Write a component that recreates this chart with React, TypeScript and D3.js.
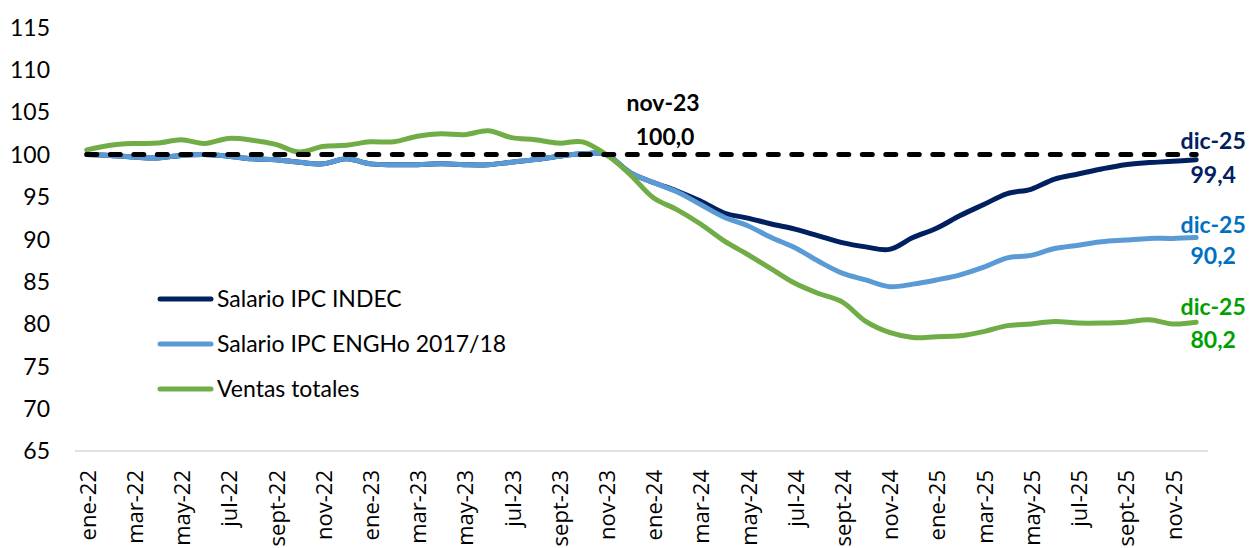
import React, { useEffect, useRef } from 'react';
import * as d3 from 'd3';

const monthNames = ['ene', 'feb', 'mar', 'abr', 'may', 'jun', 'jul', 'ago', 'sept', 'oct', 'nov', 'dic'];
const years = ['22', '23', '24', '25'];
const months: string[] = years.flatMap(y => monthNames.map(m => `${m}-${y}`));

// Salario IPC INDEC (base nov-23 = 100)
const salarioIndec = [
  100, 99.9, 99.7, 99.6, 99.9, 100, 99.8, 99.5, 99.4, 99.1, 98.9, 99.5,
  98.9, 98.8, 98.8, 98.9, 98.8, 98.8, 99.1, 99.4, 99.8, 100.1, 100,
  97.9, 96.7, 95.7, 94.5, 93.1, 92.5, 91.8, 91.2, 90.4, 89.6, 89.1, 88.8,
  90.2, 91.3, 92.8, 94.1, 95.4, 95.9, 97.1, 97.7, 98.3, 98.8, 99.05, 99.2, 99.4,
];

// Salario IPC ENGHo 2017/18
const salarioEngho = [
  100, 99.9, 99.7, 99.6, 99.9, 100, 99.8, 99.5, 99.4, 99.1, 98.9, 99.5,
  98.9, 98.8, 98.8, 98.9, 98.8, 98.8, 99.1, 99.4, 99.8, 100.1, 100,
  97.9, 96.7, 95.6, 94.1, 92.6, 91.6, 90.2, 89.0, 87.4, 86.0, 85.2, 84.4,
  84.7, 85.2, 85.8, 86.7, 87.8, 88.1, 88.9, 89.3, 89.7, 89.9, 90.1, 90.1, 90.2,
];

// Ventas totales
const ventas = [
  100.55, 101.1, 101.3, 101.35, 101.75, 101.3, 101.9, 101.7, 101.2, 100.3, 100.95, 101.1,
  101.5, 101.5, 102.15, 102.45, 102.35, 102.8, 102.0, 101.75, 101.35, 101.5, 100,
  97.7, 94.9, 93.5, 91.8, 89.8, 88.2, 86.5, 84.8, 83.6, 82.6, 80.3, 79.0,
  78.4, 78.5, 78.6, 79.1, 79.8, 80.0, 80.3, 80.1, 80.1, 80.2, 80.5, 80.0, 80.2,
];

const baseLine = months.map(() => 100);
const yTicks = [65, 70, 75, 80, 85, 90, 95, 100, 105, 110, 115];

const series = [
  { name: 'Salario IPC INDEC', values: salarioIndec, color: '#002060', labelColor: '#002060', dy1: -11, dy2: 23 },
  { name: 'Salario IPC ENGHo 2017/18', values: salarioEngho, color: '#5B9BD5', labelColor: '#0070C0', dy1: -5, dy2: 26 },
  { name: 'Ventas totales', values: ventas, color: '#70AD47', labelColor: '#00A000', dy1: -7, dy2: 26 },
];

const W = 1251;
const H = 548;
const FONT = 'Lato, "Open Sans", sans-serif';
const AXIS_FONT = '"Open Sans", Lato, sans-serif';

export default function App() {
  const ref = useRef<SVGSVGElement | null>(null);

  useEffect(() => {
    const svg = d3.select(ref.current);
    svg.selectAll('*').remove();

    const x = d3.scalePoint<string>().domain(months).range([75, 1208]).padding(0.5);
    const y = d3.scaleLinear().domain([65, 115]).range([451, 27.5]);

    // y tick labels
    svg.append('g')
      .selectAll('text')
      .data(yTicks)
      .join('text')
      .attr('x', 50)
      .attr('y', d => y(d))
      .attr('dy', '0.36em')
      .attr('text-anchor', 'end')
      .style('font-family', FONT)
      .style('font-size', '23px')
      .style('fill', '#000')
      .text(d => d);

    // x axis line
    svg.append('line')
      .attr('x1', 75).attr('x2', 1208)
      .attr('y1', y(65)).attr('y2', y(65))
      .attr('stroke', '#d9d9d9').attr('stroke-width', 1.5);

    // x tick labels (every 2 months)
    svg.append('g')
      .selectAll('text')
      .data(months.filter((_, i) => i % 2 === 0))
      .join('text')
      .attr('transform', d => `translate(${(x(d) as number) + 1},${y(65) + 19}) rotate(-90)`)
      .attr('dy', '0.36em')
      .attr('text-anchor', 'end')
      .style('font-family', AXIS_FONT)
      .style('font-size', '22px')
      .style('fill', '#000')
      .text(d => d);

    const line = d3.line<number>()
      .x((_, i) => x(months[i]) as number)
      .y(d => y(d))
      .curve(d3.curveCatmullRom.alpha(0.5));

    series.forEach(s => {
      svg.append('path')
        .attr('d', line(s.values))
        .attr('fill', 'none')
        .attr('stroke', s.color)
        .attr('stroke-width', 5)
        .attr('stroke-linecap', 'round')
        .attr('stroke-linejoin', 'round');
    });

    // base 100 dashed line
    svg.append('path')
      .attr('d', line(baseLine))
      .attr('fill', 'none')
      .attr('stroke', '#000')
      .attr('stroke-width', 5)
      .attr('stroke-dasharray', '10 13.5')
      .attr('stroke-linecap', 'round');

    // nov-23 label
    const xNov = x('nov-23') as number;
    svg.append('text')
      .attr('x', xNov + 57).attr('y', y(100) - 44)
      .attr('text-anchor', 'middle')
      .style('font-family', FONT).style('font-size', '23px').style('font-weight', 'bold')
      .text('nov-23');
    svg.append('text')
      .attr('x', xNov + 59).attr('y', y(100) - 10)
      .attr('text-anchor', 'middle')
      .style('font-family', FONT).style('font-size', '23px').style('font-weight', 'bold')
      .text('100,0');

    // end labels
    const last = months[months.length - 1];
    const xEnd = x(last) as number;
    series.forEach(s => {
      const v = s.values[s.values.length - 1];
      const g = svg.append('g')
        .attr('text-anchor', 'middle')
        .style('font-family', FONT).style('font-size', '23px').style('font-weight', 'bold')
        .style('fill', s.labelColor);
      g.append('text').attr('x', xEnd + 17).attr('y', y(v) + s.dy1).text(last);
      g.append('text').attr('x', xEnd + 17).attr('y', y(v) + s.dy2).text(d3.format('.1f')(v).replace('.', ','));
    });

    // legend
    const legend = svg.append('g');
    series.forEach((s, i) => {
      const ly = 299 + i * 45;
      legend.append('line')
        .attr('x1', 160).attr('x2', 211)
        .attr('y1', ly).attr('y2', ly)
        .attr('stroke', s.color).attr('stroke-width', 5)
        .attr('stroke-linecap', 'round');
      legend.append('text')
        .attr('x', 217).attr('y', ly)
        .attr('dy', '0.36em')
        .style('font-family', FONT).style('font-size', '23px')
        .text(s.name);
    });
  }, []);

  return (
    <svg
      ref={ref}
      width={W}
      height={H}
      style={{ position: 'absolute', left: 0, top: 0, background: '#fff' }}
    />
  );
}
